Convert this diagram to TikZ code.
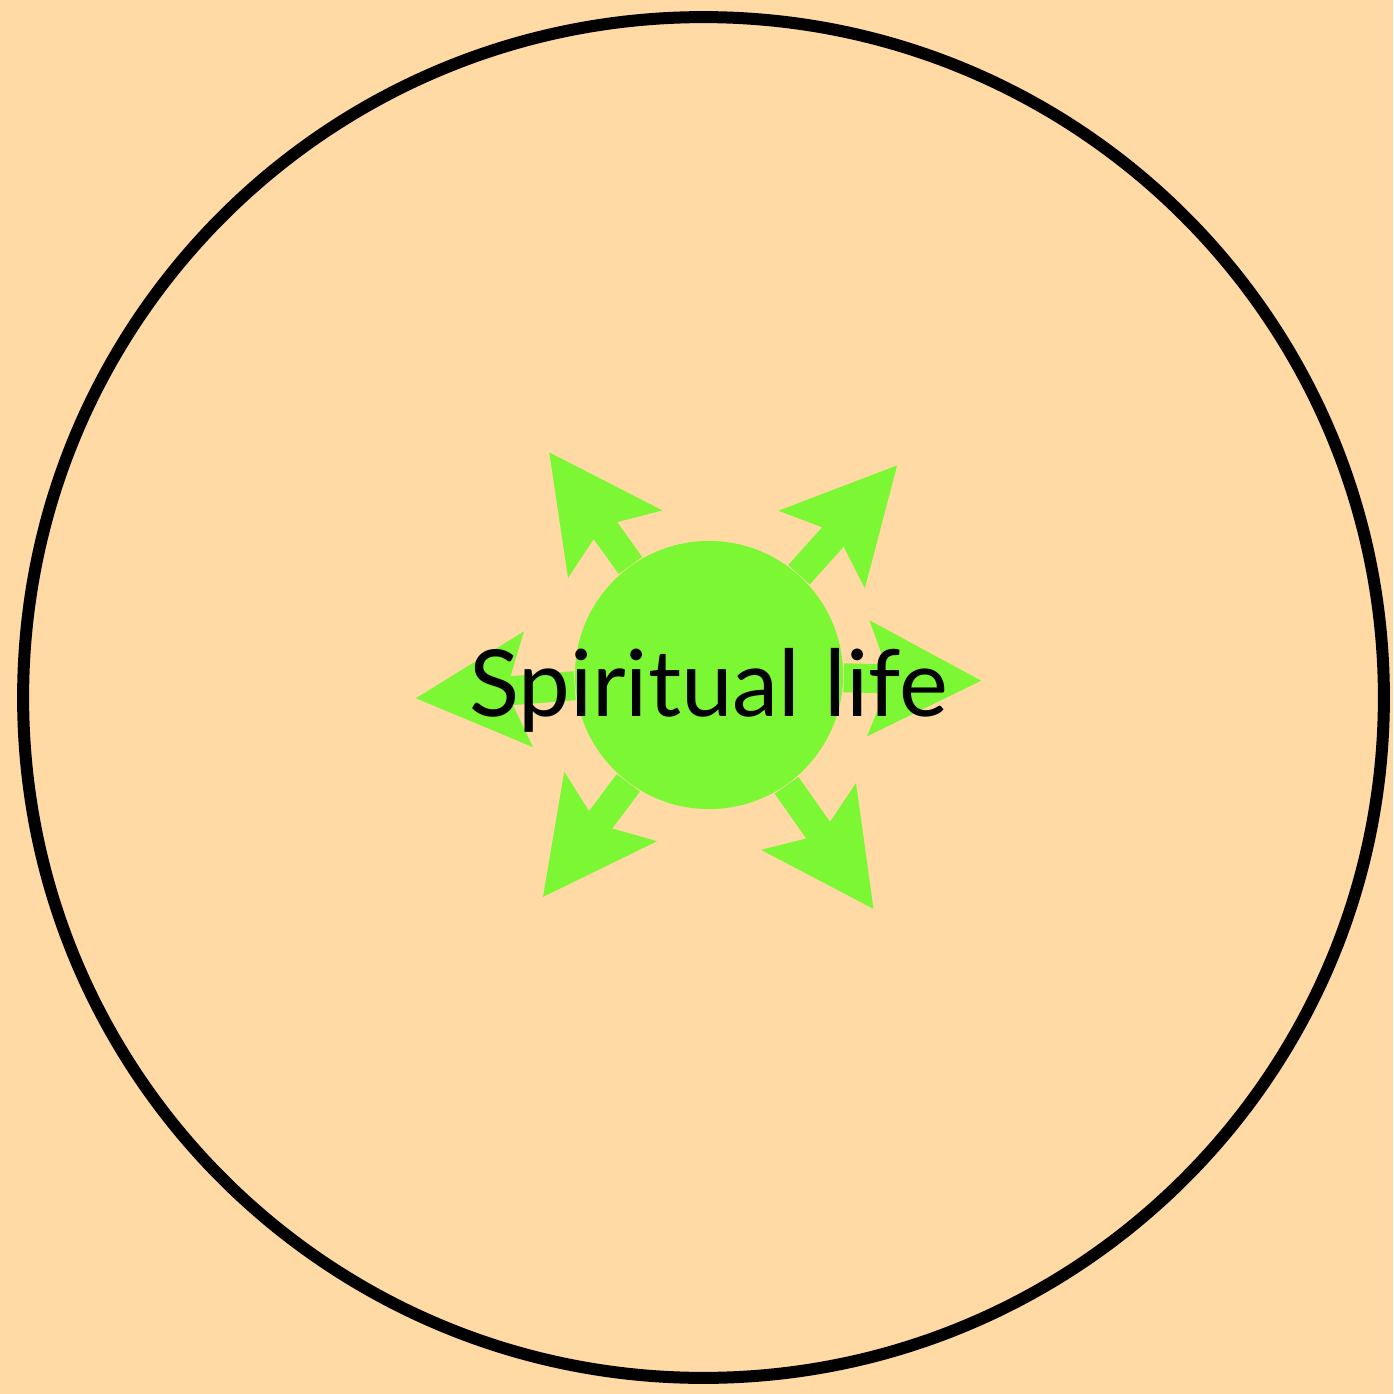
\documentclass[tikz,border=0pt]{standalone}
\usepackage{fontspec}
\setmainfont{Lato}
\usetikzlibrary{arrows.meta}

\definecolor{peach}{RGB}{255,218,164}
\definecolor{leaf}{RGB}{124,247,52}

\begin{document}
\begin{tikzpicture}[
    x=0.01cm, y=-0.01cm,
    rim/.style={
        circle,
        draw=black,
        line width=0.12cm,
        inner sep=0pt,
        minimum size=13.6cm
    },
    core/.style={
        circle,
        fill=leaf,
        inner sep=0pt,
        minimum size=2.68cm
    },
    ray/.style={
        -{Stealth[length=1.11cm, width=1.11cm, inset=0.2cm]},
        line width=0.29cm,
        leaf
    },
    lifetext/.style={
        font=\fontsize{26.3}{31}\selectfont,
        text=black,
        inner sep=0pt,
        anchor=base
    }
]

% Page and background
\path[use as bounding box, fill=peach] (0,0) rectangle (1393,1394);

% Outer circle
\node[rim] (world) at (703.5,697.5) {};

% Centre and arrow tips
\node[core] (core) at (709,675) {};
\coordinate (t1) at (549,452);
\coordinate (t2) at (897.5,465);
\coordinate (t3) at (981.7,680.7);
\coordinate (t4) at (873.8,909.3);
\coordinate (t5) at (542.7,897.3);
\coordinate (t6) at (415.3,698.3);

% Rays
\draw[ray] (core) -- (t1);
\draw[ray] (core) -- (t2);
\draw[ray] (core) -- (t3);
\draw[ray] (core) -- (t4);
\draw[ray] (core) -- (t5);
\draw[ray] (core) -- (t6);

% Text
\node[lifetext] (life) at (708.5,716) {Spiritual life};

\end{tikzpicture}
\end{document}
